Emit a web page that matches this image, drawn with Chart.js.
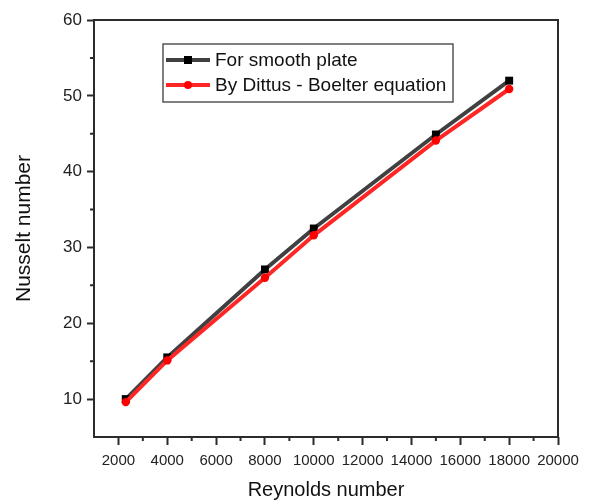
<!DOCTYPE html>
<html>
<head>
<meta charset="utf-8">
<script src="https://cdn.jsdelivr.net/npm/chart.js@4"></script>
<style>
html,body{margin:0;padding:0;background:#fff;}
#wrap{width:590px;height:502px;position:relative;}
</style>
</head>
<body>
<div id="wrap"><canvas id="c" width="590" height="502"></canvas></div>
<script>
const reynolds = [2300, 4000, 8000, 10000, 15000, 18000];
const smoothPlate = [10.0, 15.5, 27.1, 32.5, 44.9, 52.0];
const dittusBoelter = [9.6, 15.1, 26.0, 31.6, 44.1, 50.9];
const xMajorTicks = [2000, 4000, 6000, 8000, 10000, 12000, 14000, 16000, 18000, 20000];
const xMinorTicks = [3000, 5000, 7000, 9000, 11000, 13000, 15000, 17000, 19000];
const yMajorTicks = [10, 20, 30, 40, 50, 60];
const yMinorTicks = [15, 25, 35, 45, 55];
const seriesNames = ['For smooth plate', 'By Dittus - Boelter equation'];

const FONT = "'Liberation Sans', Arial, sans-serif";
const AXIS = '#2b2b2b';

const framePlugin = {
  id: 'frame',
  beforeDatasetsDraw(chart) {
    const {ctx, chartArea: a, scales} = chart;
    ctx.save();
    ctx.strokeStyle = AXIS;
    ctx.lineWidth = 2;
    ctx.strokeRect(a.left, a.top, a.right - a.left, a.bottom - a.top);
    ctx.beginPath();
    xMinorTicks.forEach(v => {
      const px = scales.x.getPixelForValue(v);
      ctx.moveTo(px, a.bottom); ctx.lineTo(px, a.bottom + 4);
    });
    yMinorTicks.forEach(v => {
      const py = scales.y.getPixelForValue(v);
      ctx.moveTo(a.left, py); ctx.lineTo(a.left - 4, py);
    });
    ctx.stroke();
    ctx.restore();
  },
  afterDraw(chart) {
    const {ctx} = chart;
    const L = 163, T = 44, R = 453, B = 102;
    ctx.save();
    ctx.fillStyle = '#fff';
    ctx.fillRect(L, T, R - L, B - T);
    ctx.strokeStyle = '#555';
    ctx.lineWidth = 1.5;
    ctx.strokeRect(L, T, R - L, B - T);
    const rows = [60, 85];
    chart.data.datasets.forEach((ds, i) => {
      const y = rows[i];
      ctx.strokeStyle = ds.borderColor;
      ctx.lineWidth = ds.borderWidth;
      ctx.beginPath(); ctx.moveTo(166, y); ctx.lineTo(210, y); ctx.stroke();
      ctx.fillStyle = ds.pointBackgroundColor;
      if (ds.pointStyle === 'rect') {
        ctx.fillRect(184, y - 4, 8, 8);
      } else {
        ctx.beginPath(); ctx.arc(188, y, 4, 0, Math.PI * 2); ctx.fill();
      }
      ctx.fillStyle = '#111';
      ctx.font = '19px ' + FONT;
      ctx.textBaseline = 'middle';
      ctx.textAlign = 'left';
      ctx.fillText(ds.label, 215, y + 1);
    });
    ctx.restore();
  }
};

new Chart(document.getElementById('c'), {
  type: 'line',
  data: {
    datasets: [
      {
        label: seriesNames[0],
        data: reynolds.map((x, i) => ({x, y: smoothPlate[i]})),
        borderColor: '#404040',
        borderWidth: 4,
        pointStyle: 'rect',
        pointRadius: 5.6,
        pointBackgroundColor: '#000',
        pointBorderWidth: 0,
        order: 1
      },
      {
        label: seriesNames[1],
        data: reynolds.map((x, i) => ({x, y: dittusBoelter[i]})),
        borderColor: '#ff2626',
        borderWidth: 4,
        pointStyle: 'circle',
        pointRadius: 4.2,
        pointBackgroundColor: '#ff0000',
        pointBorderWidth: 0,
        order: 0
      }
    ]
  },
  options: {
    responsive: false,
    animation: false,
    layout: {padding: {left: 0, top: 20, right: 32, bottom: 0}},
    plugins: {legend: {display: false}, tooltip: {enabled: false}},
    scales: {
      x: {
        type: 'linear',
        min: 1000, max: 20000,
        afterBuildTicks: s => { s.ticks = xMajorTicks.map(v => ({value: v})); },
        afterFit: s => { s.height = 65; },
        grid: {drawOnChartArea: false, tickLength: 8, tickWidth: 2, tickColor: AXIS},
        border: {display: false},
        ticks: {font: {size: 15, family: FONT}, color: '#222', padding: 7, maxRotation: 0, autoSkip: false,
                callback: v => String(v)},
        title: {display: true, text: 'Reynolds number', font: {size: 20, family: FONT}, color: '#111', padding: {top: 0, bottom: 0}}
      },
      y: {
        type: 'linear',
        min: 5, max: 60,
        afterBuildTicks: s => { s.ticks = yMajorTicks.map(v => ({value: v})); },
        afterFit: s => { s.width = 94; },
        grid: {drawOnChartArea: false, tickLength: 7, tickWidth: 2, tickColor: AXIS},
        border: {display: false},
        ticks: {font: {size: 17, family: FONT}, color: '#222', padding: 5, callback: v => String(v)},
        title: {display: true, text: 'Nusselt number', font: {size: 21, family: FONT}, color: '#111', padding: {top: 12, bottom: 0}}
      }
    }
  },
  plugins: [framePlugin]
});
</script>
</body>
</html>
